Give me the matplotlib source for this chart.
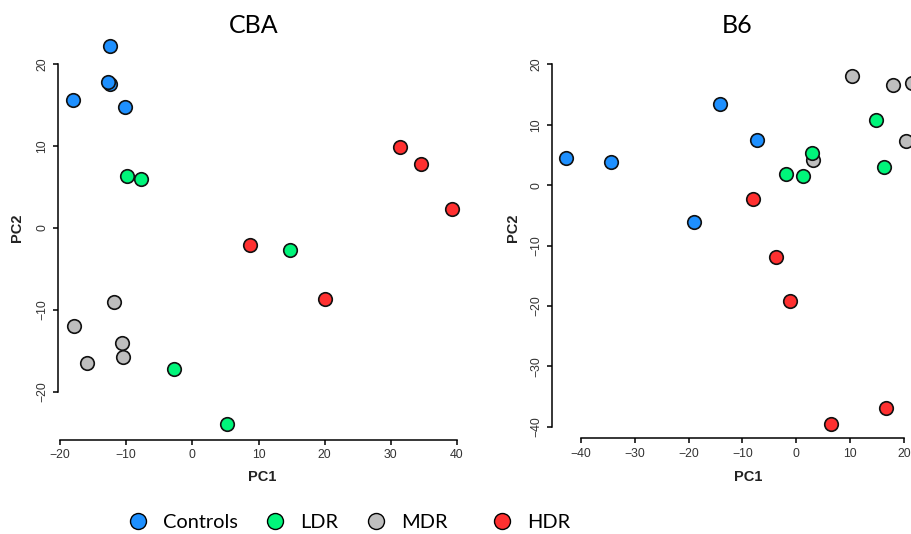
import matplotlib
matplotlib.use("Agg")
import matplotlib.pyplot as plt
from matplotlib.lines import Line2D

# ---------------- data ----------------
groups = ["Controls", "LDR", "MDR", "HDR"]
colors = {"Controls": "#1E90FF", "LDR": "#00F57A", "MDR": "#BEBEBE", "HDR": "#FF3030"}

cba_controls_x = [-12.44, -12.44, -12.7, -17.99, -10.18]
cba_controls_y = [22.24, 17.6, 17.87, 15.64, 14.78]
cba_ldr_x = [-9.92, -7.71, 14.71, -2.72, 5.19]
cba_ldr_y = [6.32, 5.95, -2.69, -17.23, -23.98]
cba_mdr_x = [-11.89, -17.88, -15.97, -10.63, -10.48]
cba_mdr_y = [-9.04, -12.01, -16.53, -14.01, -15.72]
cba_hdr_x = [8.67, 20.0, 31.34, 34.56, 39.19]
cba_hdr_y = [-2.08, -8.67, 9.9, 7.86, 2.32]

b6_controls_x = [-42.84, -34.43, -14.23, -7.36, -19.07]
b6_controls_y = [4.44, 3.77, 13.38, 7.52, -6.11]
b6_ldr_x = [-1.98, 1.18, 2.91, 14.8, 16.29]
b6_ldr_y = [1.79, 1.51, 5.36, 10.78, 3.05]
b6_mdr_x = [3.04, 10.29, 17.96, 21.43, 20.32]
b6_mdr_y = [4.1, 18.06, 16.52, 16.95, 7.35]
b6_hdr_x = [-7.99, -3.72, -1.17, 6.44, 16.72]
b6_hdr_y = [-2.35, -11.85, -19.19, -39.6, -36.85]

cba_xticks = [-20, -10, 0, 10, 20, 30, 40]
cba_yticks = [-20, -10, 0, 10, 20]
b6_xticks = [-40, -30, -20, -10, 0, 10, 20]
b6_yticks = [-40, -30, -20, -10, 0, 10, 20]

# ---------------- layout ----------------
W, H = 911, 534
fig = plt.figure(figsize=(W / 100, H / 100), dpi=100)
fig.patch.set_facecolor("white")


def px_axes(x0, y0, x1, y1):
    return fig.add_axes([x0 / W, (H - y1) / H, (x1 - x0) / W, (y1 - y0) / H])


ax1 = px_axes(58.08, 31.15, 466.8, 439.6)
ax2 = px_axes(552.3, 62.1, 943.7, 437.7)

tickfont = dict(family="Liberation Sans", size=8.8)
labfont = dict(family="Liberation Sans", size=10.5, weight="bold")


def style(ax, xticks, yticks, xlim, ylim):
    ax.set_xlim(*xlim)
    ax.set_ylim(*ylim)
    for s in ["top", "right"]:
        ax.spines[s].set_visible(False)
    for s in ["left", "bottom"]:
        ax.spines[s].set_linewidth(1.1)
    ax.spines["bottom"].set_bounds(xticks[0], xticks[-1])
    ax.spines["left"].set_bounds(yticks[0], yticks[-1])
    ax.set_xticks(xticks)
    ax.set_yticks(yticks)
    ax.set_xticklabels([f"{t}".replace("-", "\u2212") for t in xticks], fontdict=tickfont, color="#333333")
    ax.set_yticklabels([f"{t}".replace("-", "\u2212") for t in yticks], fontdict=tickfont, color="#333333",
                       rotation=90, va="center")
    ax.tick_params(axis="both", direction="out", length=3.6, width=1.1)
    ax.tick_params(axis="x", pad=3.5)
    ax.tick_params(axis="y", pad=3.5)
    ax.patch.set_alpha(0)


style(ax1, cba_xticks, cba_yticks, (-20.29, 41.48), (-25.85, 24.05))
style(ax2, b6_xticks, b6_yticks, (-45.33, 27.4), (-41.82, 20.37))

ms_s = 95
ek = dict(edgecolors="#111111", linewidths=1.2, clip_on=False, zorder=3)
ax1.scatter(cba_controls_x, cba_controls_y, s=ms_s, c=colors["Controls"], **ek)
ax1.scatter(cba_mdr_x, cba_mdr_y, s=ms_s, c=colors["MDR"], **ek)
ax1.scatter(cba_ldr_x, cba_ldr_y, s=ms_s, c=colors["LDR"], **ek)
ax1.scatter(cba_hdr_x, cba_hdr_y, s=ms_s, c=colors["HDR"], **ek)

ax2.scatter(b6_controls_x, b6_controls_y, s=ms_s, c=colors["Controls"], **ek)
ax2.scatter(b6_mdr_x, b6_mdr_y, s=ms_s, c=colors["MDR"], **ek)
ax2.scatter(b6_ldr_x, b6_ldr_y, s=ms_s, c=colors["LDR"], **ek)
ax2.scatter(b6_hdr_x, b6_hdr_y, s=ms_s, c=colors["HDR"], **ek)

# axis labels
ax1.set_xlabel("PC1", fontdict=labfont, va="center", color="#222222")
ax1.xaxis.set_label_coords(0.5, -0.0908)
ax1.set_ylabel("PC2", fontdict=labfont, va="center", color="#222222")
ax1.yaxis.set_label_coords(-0.1005, 0.518)
ax2.set_xlabel("PC1", fontdict=labfont, va="center", color="#222222")
ax2.xaxis.set_label_coords(0.5, -0.1046)
ax2.set_ylabel("PC2", fontdict=labfont, va="center", color="#222222")
ax2.yaxis.set_label_coords(-0.1004, 0.558)

# titles
fig.text(254 / W, (H - 33) / H, "CBA", family="Lato", size=18, ha="center", va="baseline")
fig.text(737 / W, (H - 33) / H, "B6", family="Lato", size=18, ha="center", va="baseline")

# legend (one entry each, placed as in the reference)
leg_cx = {"Controls": 138, "LDR": 275, "MDR": 376, "HDR": 502}
fs = 14.4
for g in groups:
    h = Line2D([], [], linestyle="none", marker="o", markersize=11.5,
               markerfacecolor=colors[g], markeredgecolor="black", markeredgewidth=1.0)
    leg = fig.legend([h], [g], loc="center left",
                     bbox_to_anchor=((leg_cx[g] - 10) / W, (H - 522) / H),
                     frameon=False, borderpad=0, borderaxespad=0,
                     handlelength=1.0, handletextpad=0.75,
                     prop=dict(family="Lato", size=fs))

fig.savefig("out.png", dpi=100, facecolor="white")
